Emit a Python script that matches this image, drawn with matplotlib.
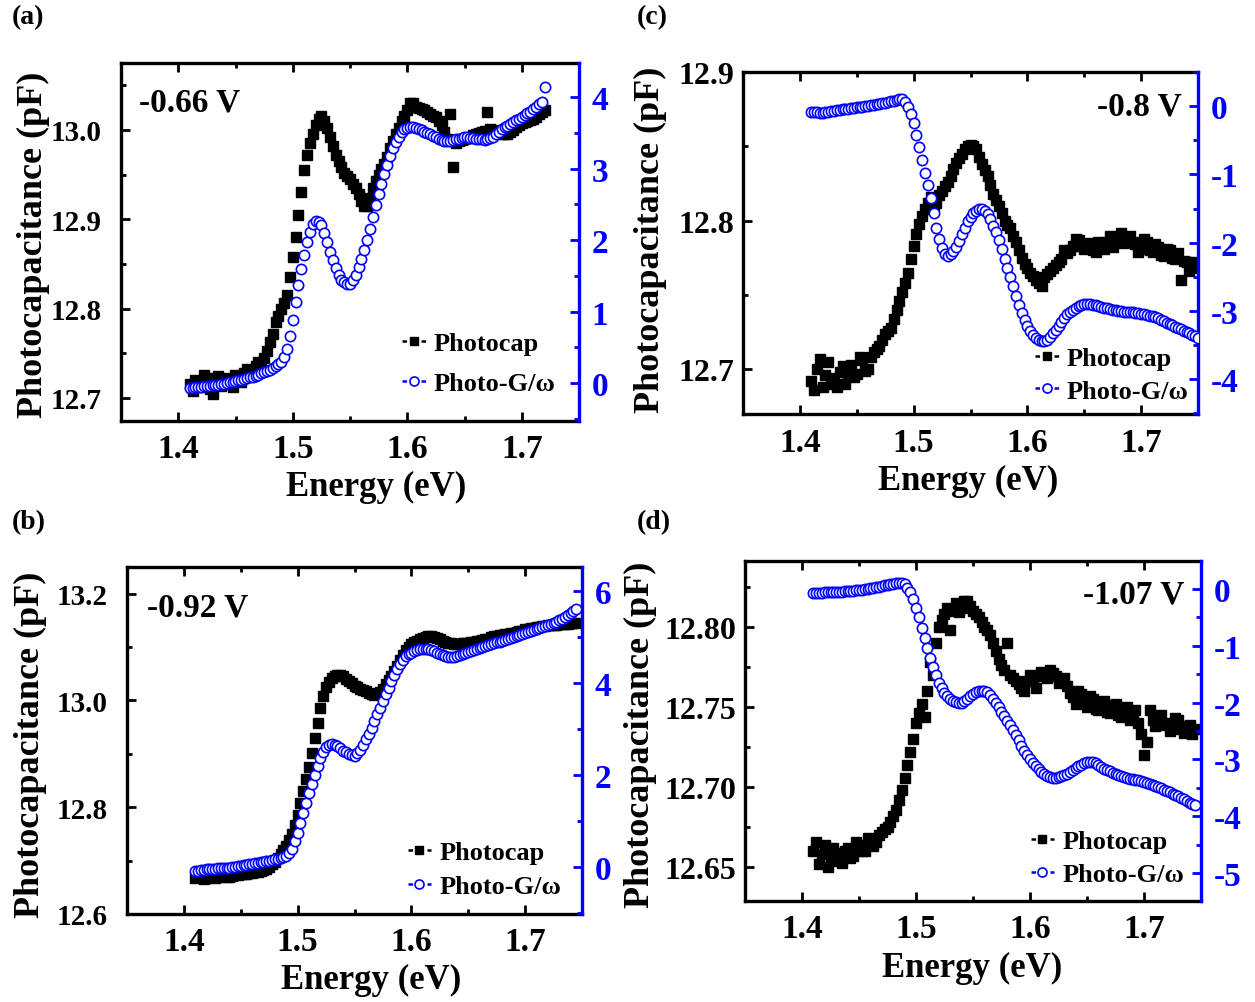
import numpy as np
import matplotlib
matplotlib.use("Agg")
import matplotlib.pyplot as plt
from matplotlib.lines import Line2D
from matplotlib.ticker import MultipleLocator, FormatStrFormatter

plt.rcParams['font.family'] = ['Liberation Serif', 'DejaVu Serif']
plt.rcParams['font.weight'] = 'bold'
plt.rcParams['axes.unicode_minus'] = False
plt.rcParams['lines.scale_dashes'] = False

# ---------------- data (energy grid: 2.5 meV steps from 1.41 eV) ----------------
cap_a = [12.715, 12.708, 12.720, 12.714, 12.712, 12.725, 12.722, 12.710, 12.704, 12.718,
         12.724, 12.713, 12.716, 12.722, 12.720, 12.712, 12.726, 12.721, 12.718, 12.728,
         12.732, 12.724, 12.728, 12.736, 12.740, 12.738, 12.745, 12.752, 12.762, 12.772,
         12.785, 12.792, 12.800, 12.806, 12.815, 12.835, 12.858, 12.880, 12.905, 12.930,
         12.955, 12.972, 12.985, 12.996, 13.005, 13.012, 13.016, 13.010, 13.002, 12.992,
         12.982, 12.972, 12.965, 12.958, 12.952, 12.948, 12.945, 12.940, 12.935, 12.928,
         12.920, 12.915, 12.915, 12.924, 12.935, 12.943, 12.950, 12.956, 12.962, 12.970,
         12.980, 12.988, 12.995, 13.002, 13.010, 13.016, 13.022, 13.030, 13.030, 13.026,
         13.025, 13.024, 13.022, 13.020, 13.018, 13.016, 13.015, 13.010, 13.005, 12.998,
         12.990, 13.018, 12.958, 12.985, 12.988, 12.989, 12.990, 12.991, 12.992, 12.994,
         12.995, 12.997, 12.998, 12.999, 13.020, 13.001, 13.000, 12.999, 12.998, 12.996,
         12.995, 12.996, 12.998, 13.000, 13.003, 13.006, 13.008, 13.009, 13.010, 13.011,
         13.012, 13.015, 13.018, 13.020, 13.022]
g_a = [-0.07, -0.065, -0.06, -0.055, -0.05, -0.045, -0.04, -0.035, -0.03, -0.025,
       -0.02, -0.015, -0.01, 0.00, 0.01, 0.02, 0.03, 0.04, 0.05, 0.06,
       0.07, 0.08, 0.09, 0.105, 0.12, 0.135, 0.15, 0.17, 0.19, 0.215,
       0.24, 0.27, 0.30, 0.37, 0.48, 0.66, 0.88, 1.13, 1.38, 1.60,
       1.80, 1.98, 2.12, 2.22, 2.27, 2.26, 2.21, 2.10, 1.97, 1.84,
       1.72, 1.61, 1.52, 1.45, 1.41, 1.39, 1.39, 1.44, 1.52, 1.62,
       1.74, 1.86, 2.00, 2.16, 2.33, 2.49, 2.65, 2.79, 2.92, 3.05,
       3.18, 3.29, 3.38, 3.45, 3.51, 3.55, 3.57, 3.58, 3.58, 3.57,
       3.56, 3.54, 3.52, 3.50, 3.48, 3.46, 3.44, 3.42, 3.40, 3.39,
       3.39, 3.39, 3.40, 3.41, 3.42, 3.43, 3.44, 3.44, 3.43, 3.43,
       3.42, 3.41, 3.41, 3.40, 3.41, 3.43, 3.45, 3.48, 3.52, 3.55,
       3.58, 3.60, 3.62, 3.65, 3.68, 3.70, 3.73, 3.75, 3.78, 3.80,
       3.83, 3.86, 3.90, 3.93, 4.14]

cap_b = [12.668, 12.672, 12.670, 12.666, 12.667, 12.671, 12.671, 12.668, 12.669, 12.672,
         12.672, 12.670, 12.670, 12.672, 12.673, 12.673, 12.674, 12.675, 12.675, 12.676,
         12.677, 12.678, 12.679, 12.680, 12.682, 12.685, 12.688, 12.693, 12.698, 12.705,
         12.712, 12.720, 12.728, 12.738, 12.750, 12.766, 12.785, 12.808, 12.830, 12.852,
         12.875, 12.902, 12.930, 12.958, 12.985, 13.008, 13.025, 13.035, 13.042, 13.046,
         13.048, 13.047, 13.045, 13.040, 13.036, 13.032, 13.028, 13.025, 13.022, 13.019,
         13.017, 13.014, 13.012, 13.011, 13.012, 13.016, 13.022, 13.030, 13.038, 13.046,
         13.055, 13.065, 13.076, 13.085, 13.094, 13.100, 13.105, 13.109, 13.112, 13.115,
         13.117, 13.119, 13.120, 13.120, 13.119, 13.117, 13.115, 13.112, 13.110, 13.108,
         13.107, 13.106, 13.106, 13.106, 13.107, 13.107, 13.108, 13.109, 13.110, 13.111,
         13.112, 13.113, 13.115, 13.116, 13.118, 13.120, 13.121, 13.122, 13.123, 13.124,
         13.125, 13.126, 13.127, 13.128, 13.130, 13.131, 13.133, 13.134, 13.135, 13.136,
         13.137, 13.138, 13.139, 13.140, 13.141, 13.141, 13.142, 13.142, 13.143, 13.143,
         13.144, 13.144, 13.145, 13.145, 13.146]
g_b = [-0.08, -0.075, -0.07, -0.06, -0.05, -0.045, -0.04, -0.035, -0.03, -0.025,
       -0.02, -0.015, -0.01, 0.00, 0.01, 0.02, 0.03, 0.04, 0.05, 0.06,
       0.07, 0.08, 0.09, 0.105, 0.12, 0.13, 0.14, 0.155, 0.17, 0.185,
       0.20, 0.22, 0.24, 0.30, 0.40, 0.56, 0.75, 0.96, 1.18, 1.39,
       1.60, 1.80, 2.00, 2.20, 2.38, 2.51, 2.60, 2.65, 2.67, 2.66,
       2.62, 2.58, 2.53, 2.49, 2.45, 2.43, 2.42, 2.47, 2.55, 2.66,
       2.78, 2.90, 3.03, 3.17, 3.32, 3.46, 3.60, 3.75, 3.90, 4.04,
       4.17, 4.30, 4.42, 4.51, 4.58, 4.63, 4.66, 4.69, 4.71, 4.73,
       4.74, 4.74, 4.74, 4.72, 4.70, 4.66, 4.63, 4.60, 4.58, 4.57,
       4.56, 4.57, 4.58, 4.60, 4.62, 4.645, 4.67, 4.695, 4.72, 4.74,
       4.76, 4.78, 4.80, 4.82, 4.84, 4.86, 4.88, 4.90, 4.92, 4.94,
       4.96, 4.98, 5.00, 5.02, 5.04, 5.065, 5.09, 5.11, 5.13, 5.15,
       5.17, 5.195, 5.22, 5.24, 5.26, 5.28, 5.30, 5.33, 5.36, 5.40,
       5.44, 5.48, 5.52, 5.565, 5.61]

cap_c = [12.692, 12.686, 12.700, 12.707, 12.688, 12.696, 12.705, 12.690, 12.694, 12.688,
         12.698, 12.702, 12.690, 12.697, 12.703, 12.695, 12.697, 12.708, 12.706, 12.699,
         12.700, 12.708, 12.712, 12.714, 12.716, 12.720, 12.724, 12.726, 12.728, 12.734,
         12.740, 12.746, 12.752, 12.758, 12.765, 12.774, 12.783, 12.791, 12.798, 12.803,
         12.808, 12.812, 12.816, 12.810, 12.812, 12.817, 12.820, 12.823, 12.826, 12.830,
         12.835, 12.839, 12.842, 12.845, 12.848, 12.850, 12.851, 12.850, 12.848, 12.843,
         12.838, 12.834, 12.830, 12.824, 12.818, 12.814, 12.810, 12.805, 12.800, 12.797,
         12.795, 12.790, 12.786, 12.780, 12.775, 12.771, 12.768, 12.765, 12.763, 12.760,
         12.758, 12.756, 12.762, 12.764, 12.766, 12.768, 12.770, 12.772, 12.774, 12.780,
         12.778, 12.780, 12.783, 12.788, 12.787, 12.783, 12.781, 12.784, 12.785, 12.780,
         12.779, 12.786, 12.784, 12.781, 12.786, 12.790, 12.782, 12.786, 12.789, 12.792,
         12.785, 12.788, 12.790, 12.786, 12.784, 12.779, 12.781, 12.788, 12.786, 12.780,
         12.779, 12.784, 12.782, 12.777, 12.776, 12.781, 12.780, 12.775, 12.774, 12.778,
         12.760, 12.773, 12.772, 12.766, 12.768, 12.772, 12.770]
g_c = [-0.08, -0.085, -0.09, -0.095, -0.10, -0.09, -0.08, -0.075, -0.07, -0.06,
       -0.05, -0.045, -0.04, -0.035, -0.03, -0.025, -0.02, -0.015, -0.01, -0.005,
       0.00, 0.01, 0.02, 0.025, 0.03, 0.04, 0.05, 0.06, 0.07, 0.08,
       0.09, 0.10, 0.10, 0.06, -0.02, -0.12, -0.24, -0.42, -0.60, -0.79,
       -0.98, -1.16, -1.35, -1.57, -1.78, -1.95, -2.08, -2.16, -2.19, -2.17,
       -2.12, -2.06, -1.98, -1.88, -1.78, -1.69, -1.62, -1.56, -1.53, -1.51,
       -1.51, -1.53, -1.58, -1.66, -1.75, -1.85, -1.96, -2.10, -2.24, -2.37,
       -2.50, -2.64, -2.78, -2.91, -3.03, -3.13, -3.22, -3.30, -3.36, -3.40,
       -3.43, -3.44, -3.44, -3.42, -3.38, -3.33, -3.28, -3.22, -3.16, -3.10,
       -3.05, -3.01, -2.98, -2.95, -2.93, -2.91, -2.90, -2.90, -2.90, -2.91,
       -2.92, -2.93, -2.94, -2.95, -2.96, -2.97, -2.98, -2.99, -3.00, -3.00,
       -3.01, -3.01, -3.02, -3.02, -3.03, -3.03, -3.04, -3.05, -3.06, -3.07,
       -3.08, -3.09, -3.11, -3.13, -3.15, -3.17, -3.19, -3.21, -3.23, -3.25,
       -3.27, -3.29, -3.31, -3.33, -3.35, -3.37, -3.39]

cap_d = [12.660, 12.666, 12.652, 12.658, 12.664, 12.650, 12.655, 12.662, 12.659, 12.654,
         12.653, 12.660, 12.662, 12.656, 12.657, 12.666, 12.664, 12.660, 12.660, 12.668,
         12.667, 12.663, 12.666, 12.670, 12.672, 12.674, 12.675, 12.678, 12.682, 12.686,
         12.692, 12.698, 12.706, 12.714, 12.722, 12.730, 12.740, 12.746, 12.752, 12.744,
         12.760, 12.778, 12.770, 12.790, 12.800, 12.804, 12.808, 12.812, 12.798, 12.810,
         12.815, 12.809, 12.812, 12.816, 12.816, 12.813, 12.810, 12.808, 12.806, 12.803,
         12.800, 12.798, 12.795, 12.790, 12.785, 12.780, 12.776, 12.773, 12.790, 12.770,
         12.768, 12.766, 12.764, 12.762, 12.760, 12.766, 12.770, 12.766, 12.762, 12.769,
         12.772, 12.770, 12.768, 12.773, 12.771, 12.769, 12.765, 12.767, 12.768, 12.763,
         12.759, 12.756, 12.752, 12.760, 12.758, 12.753, 12.750, 12.757, 12.755, 12.749,
         12.748, 12.752, 12.754, 12.747, 12.746, 12.751, 12.752, 12.745, 12.744, 12.749,
         12.750, 12.742, 12.745, 12.748, 12.740, 12.733, 12.720, 12.728, 12.748, 12.742,
         12.738, 12.744, 12.745, 12.739, 12.740, 12.735, 12.737, 12.743, 12.742, 12.736,
         12.734, 12.738, 12.739, 12.733, 12.736]
g_d = [-0.07, -0.07, -0.07, -0.065, -0.06, -0.06, -0.06, -0.055, -0.05, -0.05,
       -0.05, -0.045, -0.04, -0.035, -0.03, -0.025, -0.02, -0.015, -0.01, 0.00,
       0.01, 0.02, 0.03, 0.04, 0.05, 0.06, 0.07, 0.08, 0.09, 0.10,
       0.11, 0.11, 0.08, 0.02, -0.06, -0.18, -0.33, -0.50, -0.68, -0.86,
       -1.04, -1.21, -1.38, -1.52, -1.65, -1.75, -1.83, -1.89, -1.94, -1.97,
       -1.99, -2.00, -2.00, -1.97, -1.93, -1.89, -1.85, -1.82, -1.80, -1.79,
       -1.79, -1.82, -1.86, -1.93, -2.00, -2.08, -2.16, -2.24, -2.32, -2.40,
       -2.48, -2.57, -2.66, -2.76, -2.85, -2.93, -3.00, -3.06, -3.12, -3.17,
       -3.22, -3.26, -3.29, -3.31, -3.32, -3.32, -3.31, -3.29, -3.27, -3.25,
       -3.22, -3.19, -3.15, -3.12, -3.09, -3.07, -3.05, -3.04, -3.05, -3.07,
       -3.09, -3.13, -3.16, -3.19, -3.21, -3.23, -3.25, -3.27, -3.29, -3.31,
       -3.32, -3.34, -3.35, -3.36, -3.37, -3.38, -3.39, -3.41, -3.43, -3.45,
       -3.47, -3.49, -3.51, -3.53, -3.55, -3.575, -3.60, -3.625, -3.65, -3.675,
       -3.70, -3.73, -3.76, -3.785, -3.81]

E_START, E_STEP = 1.41, 0.0025
energy_a = np.round(E_START + E_STEP * np.arange(len(g_a)), 4)
energy_b = np.round(E_START + E_STEP * np.arange(len(g_b)), 4)
energy_c = np.round(E_START + E_STEP * np.arange(len(g_c)), 4)
energy_d = np.round(E_START + E_STEP * np.arange(len(g_d)), 4)

panel_labels = ['(a)', '(c)', '(b)', '(d)']
bias_labels = ['-0.66 V', '-0.8 V', '-0.92 V', '-1.07 V']
series_names = ['Photocap', 'Photo-G/\u03c9']
x_label = 'Energy (eV)'
y_label = 'Photocapacitance (pF)'

# ---------------- layout ----------------
W, H = 1255, 1003
fig = plt.figure(figsize=(W / 100, H / 100), dpi=100)
BLUE = '#0000FF'

def px_rect(l, r, t, b):
    return [l / W, 1 - b / H, (r - l) / W, (b - t) / H]

panels = [
    dict(rect=px_rect(121, 579, 64, 422), E=energy_a, C=cap_a, G=g_a,
         ylim=(12.674, 13.075), ymaj=0.1, ymin=0.05, yfmt='%.1f', ypad=14, ysize=21,
         g_lim=(-0.53, 4.48), g_maj=1, g_min=0.5,
         bias_xy=(0.04, 0.89), bias_ha='left', leg=(0.978, 0.036), lsp=0.62,
         lab_xy=(12, 18), xl_xy=(376, 487), yl_xy=(33, 245)),
    dict(rect=px_rect(743, 1198, 73, 415), E=energy_c, C=cap_c, G=g_c,
         ylim=(12.67, 12.9), ymaj=0.1, ymin=0.05, yfmt='%.1f', ypad=6, ysize=23,
         g_lim=(-4.51, 0.5), g_maj=1, g_min=0.5,
         bias_xy=(0.965, 0.90), bias_ha='right', leg=(1.008, -0.005), lsp=0.35,
         lab_xy=(637, 18), xl_xy=(968, 481), yl_xy=(650, 240)),
    dict(rect=px_rect(127, 582, 568, 915), E=energy_b, C=cap_b, G=g_b,
         ylim=(12.6, 13.25), ymaj=0.2, ymin=0.1, yfmt='%.1f', ypad=14, ysize=21,
         g_lim=(-1.02, 6.52), g_maj=2, g_min=1,
         bias_xy=(0.045, 0.885), bias_ha='left', leg=(0.983, 0.008), lsp=0.40,
         lab_xy=(12, 523), xl_xy=(371, 980), yl_xy=(30, 745)),
    dict(rect=px_rect(745, 1201, 562, 902), E=energy_d, C=cap_d, G=g_d,
         ylim=(12.629, 12.841), ymaj=0.05, ymin=0.025, yfmt='%.2f', ypad=6, ysize=23,
         g_lim=(-5.49, 0.49), g_maj=1, g_min=0.5,
         bias_xy=(0.963, 0.903), bias_ha='right', leg=(0.992, 0.005), lsp=0.35,
         lab_xy=(637, 523), xl_xy=(972, 968), yl_xy=(640, 735)),
]

SPW = 2.4
for i, p in enumerate(panels):
    ax = fig.add_axes(p['rect'])
    ax.plot(p['E'], p['C'], linestyle='none', marker='s', ms=7.8,
            color='black', mec='black', zorder=2)
    ax.set_xlim(1.35, 1.75)
    ax.set_ylim(*p['ylim'])
    ax.xaxis.set_major_locator(MultipleLocator(0.1))
    ax.xaxis.set_minor_locator(MultipleLocator(0.05))
    ax.xaxis.set_major_formatter(FormatStrFormatter('%.1f'))
    ax.yaxis.set_major_locator(MultipleLocator(p['ymaj']))
    ax.yaxis.set_minor_locator(MultipleLocator(p['ymin']))
    ax.yaxis.set_major_formatter(FormatStrFormatter(p['yfmt']))
    ax.tick_params(axis='both', which='both', direction='in', top=True,
                   right=False, width=2.0, colors='black')
    ax.tick_params(axis='both', which='major', length=6.5)
    ax.tick_params(axis='both', which='minor', length=3.5)
    ax.tick_params(axis='x', which='major', labelsize=24, pad=9)
    ax.tick_params(axis='y', which='major', labelsize=p['ysize'], pad=p['ypad'])
    for sp in ax.spines.values():
        sp.set_linewidth(SPW)
    ax.spines['right'].set_visible(False)

    ax2 = ax.twinx()
    ax2.plot(p['E'], p['G'], linestyle='none', marker='o', ms=7.4,
             mfc='white', mec=BLUE, mew=1.2, zorder=3)
    ax2.set_ylim(*p['g_lim'])
    ax2.yaxis.set_major_locator(MultipleLocator(p['g_maj']))
    ax2.yaxis.set_minor_locator(MultipleLocator(p['g_min']))
    ax2.yaxis.set_major_formatter(FormatStrFormatter('%d'))
    ax2.tick_params(axis='y', which='both', direction='in', colors=BLUE,
                    width=2.0, labelsize=24, pad=9)
    ax2.tick_params(axis='y', which='major', length=6.5)
    ax2.tick_params(axis='y', which='minor', length=3.5)
    for name, sp in ax2.spines.items():
        sp.set_linewidth(SPW)
        if name != 'right':
            sp.set_visible(False)
    ax2.spines['right'].set_color(BLUE)

    ax2.text(p['bias_xy'][0], p['bias_xy'][1], bias_labels[i],
             transform=ax2.transAxes, ha=p['bias_ha'], va='center',
             fontsize=24, fontweight='bold', zorder=5)

    handles = [
        Line2D([], [], color='black', linestyle=(0, (3.3, 10.4)), lw=1.8,
               marker='s', ms=6, mfc='black', mec='black'),
        Line2D([], [], color=BLUE, linestyle=(0, (3.3, 10.4)), lw=1.8,
               marker='o', ms=6.5, mfc='white', mec=BLUE, mew=1.2),
    ]
    ax2.legend(handles, series_names, loc='lower right',
               bbox_to_anchor=p['leg'], frameon=False,
               handlelength=0.9, handletextpad=0.3, borderpad=0.0,
               labelspacing=p['lsp'], prop={'weight': 'bold', 'size': 19})

    fig.text(p['lab_xy'][0] / W, 1 - p['lab_xy'][1] / H, panel_labels[i],
             ha='left', va='center', fontsize=20, fontweight='bold')
    fig.text(p['xl_xy'][0] / W, 1 - p['xl_xy'][1] / H, x_label,
             ha='center', va='center', fontsize=25, fontweight='bold')
    fig.text(p['yl_xy'][0] / W, 1 - p['yl_xy'][1] / H, y_label,
             ha='center', va='center', rotation=90, fontsize=26,
             fontweight='bold')

fig.savefig('out.png', dpi=100)
